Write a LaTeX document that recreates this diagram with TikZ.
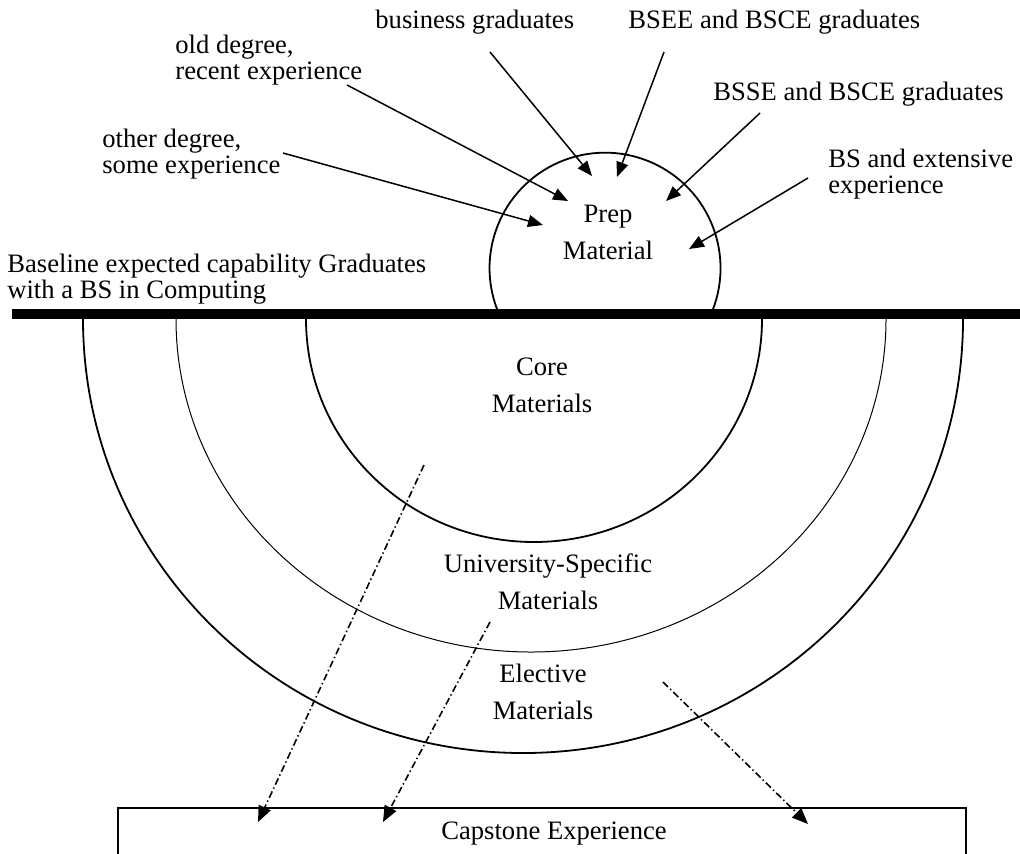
\documentclass[tikz,border=0pt]{standalone}
\usepackage{fontspec}
\setmainfont{Liberation Serif}
\usetikzlibrary{arrows.meta}

\begin{document}
\begin{tikzpicture}
[x=0.5pt, y=-0.5pt,
 lbl/.style={inner sep=0pt, anchor=west, align=left, font=\fontsize{13.3}{13.2}\selectfont},
 area/.style={inner sep=0pt, align=center, font=\fontsize{13.3}{18.5}\selectfont},
 ring/.style={line width=0.9pt},
 thinring/.style={line width=0.5pt},
 feed/.style={line width=0.75pt, -{Triangle[length=7.5pt,width=6pt]}},
 flow/.style={line width=0.8pt, dash pattern=on 3.5pt off 1.5pt on 0.7pt off 1.5pt,
              -{Triangle[length=8pt,width=6.5pt]}}]
\useasboundingbox (0,0) rectangle (1020,853);
% rings below the baseline
\draw[ring]     (83,312)  -- (83,319)  arc[start angle=180, end angle=0, x radius=440, y radius=434] -- (963,312);
\draw[thinring] (176,312) -- (176,319) arc[start angle=180, end angle=0, x radius=355, y radius=333] -- (886,312);
\draw[ring]     (306,312) -- (306,319) arc[start angle=180, end angle=0, x radius=228, y radius=223] -- (762,312);
% prep bump
\draw[ring] (497,312) -- (497,309) arc[start angle=159.3, end angle=380.7, radius=115.5] -- (714,312);
% baseline
\draw[line width=5pt] (12,314) -- (1020,314);
% capstone box
\draw[line width=0.7pt] (118,880) |- (966,808) -- (966,880);
\node[lbl] (bus)  at (375,22)   {business graduates};
\node[lbl] (bsee) at (628,22)   {BSEE and BSCE graduates};
\node[lbl] (bsse) at (713,94)   {BSSE and BSCE graduates};
\node[lbl] (old)  at (175,60)   {old degree,\\recent experience};
\node[lbl] (oth)  at (102,154)  {other degree,\\some experience};
\node[lbl] (ext)  at (828,174)  {BS and extensive\\experience};
\node[lbl] (base) at (7,279)    {Baseline expected capability Graduates\\with a BS in Computing};
\node[area] (prep) at (608,232) {Prep\\Material};
\node[area] (core) at (542,385) {Core\\Materials};
\node[area] (uni)  at (548,582) {University-Specific\\Materials};
\node[area] (elec) at (543,692) {Elective\\Materials};
\node[area] (cap)  at (554,834) {Capstone Experience};
\coordinate (busS) at (490,52);  \coordinate (busT) at (592,176);
\coordinate (eeS)  at (664,52);  \coordinate (eeT)  at (617,177);
\coordinate (seS)  at (760,113); \coordinate (seT)  at (666,201);
\coordinate (oldS) at (347,85);  \coordinate (oldT) at (568,201);
\coordinate (othS) at (283,153); \coordinate (othT) at (543,225);
\coordinate (extS) at (808,178); \coordinate (extT) at (689,249);
\coordinate (coreS) at (424,465); \coordinate (capA) at (258,822);
\coordinate (uniS)  at (490,622); \coordinate (capB) at (383,822);
\coordinate (elecS) at (663,682); \coordinate (capC) at (808,824);
\path (busS)  edge[feed] (busT)
      (eeS)   edge[feed] (eeT)
      (seS)   edge[feed] (seT)
      (oldS)  edge[feed] (oldT)
      (othS)  edge[feed] (othT)
      (extS)  edge[feed] (extT)
      (coreS) edge[flow] (capA)
      (uniS)  edge[flow] (capB)
      (elecS) edge[flow] (capC);
\end{tikzpicture}
\end{document}
